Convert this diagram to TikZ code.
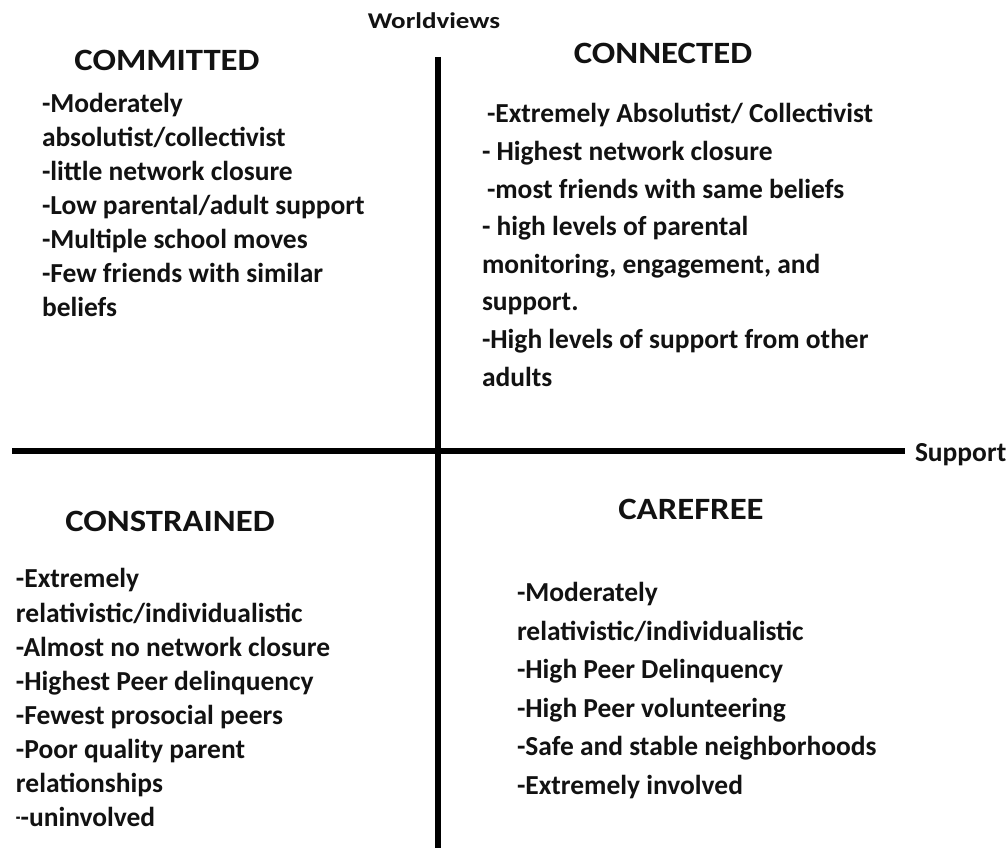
\documentclass[tikz,border=0pt]{standalone}
\usepackage{fontspec}
\setmainfont{Carlito}
\newfontfamily\headfont{Carlito}[FakeStretch=1.12]
\newfontfamily\axisfont{Carlito}[FakeStretch=1.2]
\begin{document}
\begin{tikzpicture}[x=0.75pt,y=-0.75pt,
  txt/.style={inner sep=0pt, outer sep=0pt, text=black!93},
  body/.style={txt, anchor=base west, font=\bfseries\fontsize{20.6}{24}\selectfont},
  head/.style={txt, anchor=base, font=\headfont\bfseries\fontsize{23.25}{28}\selectfont},
  axislabel/.style={txt, font=\axisfont\bfseries\fontsize{16.9}{20}\selectfont},
  axis/.style={line width=4.5pt, black}]
\useasboundingbox[fill=white] (0,0) rectangle (1008,848);

% axes
\coordinate (vtop) at (437.5,57);
\coordinate (vbot) at (437.5,848);
\coordinate (hleft) at (12,451.5);
\coordinate (hright) at (905,451.5);
\draw[axis] (vtop) -- (vbot);
\draw[axis] (hleft) -- (hright);

\node[axislabel, anchor=base] (worldviews) at (434,29) {Worldviews};
\node[body, anchor=base west] (support) at (915,462) {Support};

% quadrant titles
\node[head] (committed) at (167,71) {COMMITTED};
\node[head] (connected) at (663,64) {CONNECTED};
\node[head] (constrained) at (170,532) {CONSTRAINED};
\node[head] (carefree) at (691,520) {CAREFREE};

% upper left
\foreach \t [count=\i from 0] in {{-Moderately},{absolutist/collectivist},{-little network closure},{-Low parental/adult support},{-Multiple school moves},{-Few friends with similar},{beliefs}}
  \node[body] (tl-\i) at (42,{113+34*\i}) {\t};

% upper right
\foreach \t/\dx [count=\i from 0] in {{-Extremely Absolutist/ Collectivist}/5,{- Highest network closure}/0,{-most friends with same beliefs}/5,{- high levels of parental}/0,{monitoring, engagement, and}/0,{support.}/0,{-High levels of support from other}/0,{adults}/0}
  \node[body] (tr-\i) at ({482+\dx},{123+37.6*\i}) {\t};

% lower left
\foreach \t [count=\i from 0] in {{-Extremely},{relativistic/individualistic},{-Almost no network closure},{-Highest Peer delinquency},{-Fewest prosocial peers},{-Poor quality parent},{relationships},{\raisebox{0.09em}{\scalebox{0.55}[0.8]{-}}-uninvolved}}
  \node[body] (bl-\i) at (16,{588+34.1*\i}) {\t};

% lower right
\foreach \t [count=\i from 0] in {{-Moderately},{relativistic/individualistic},{-High Peer Delinquency},{-High Peer volunteering},{-Safe and stable neighborhoods},{-Extremely involved}}
  \node[body] (br-\i) at (517,{602+38.4*\i}) {\t};
\end{tikzpicture}
\end{document}
